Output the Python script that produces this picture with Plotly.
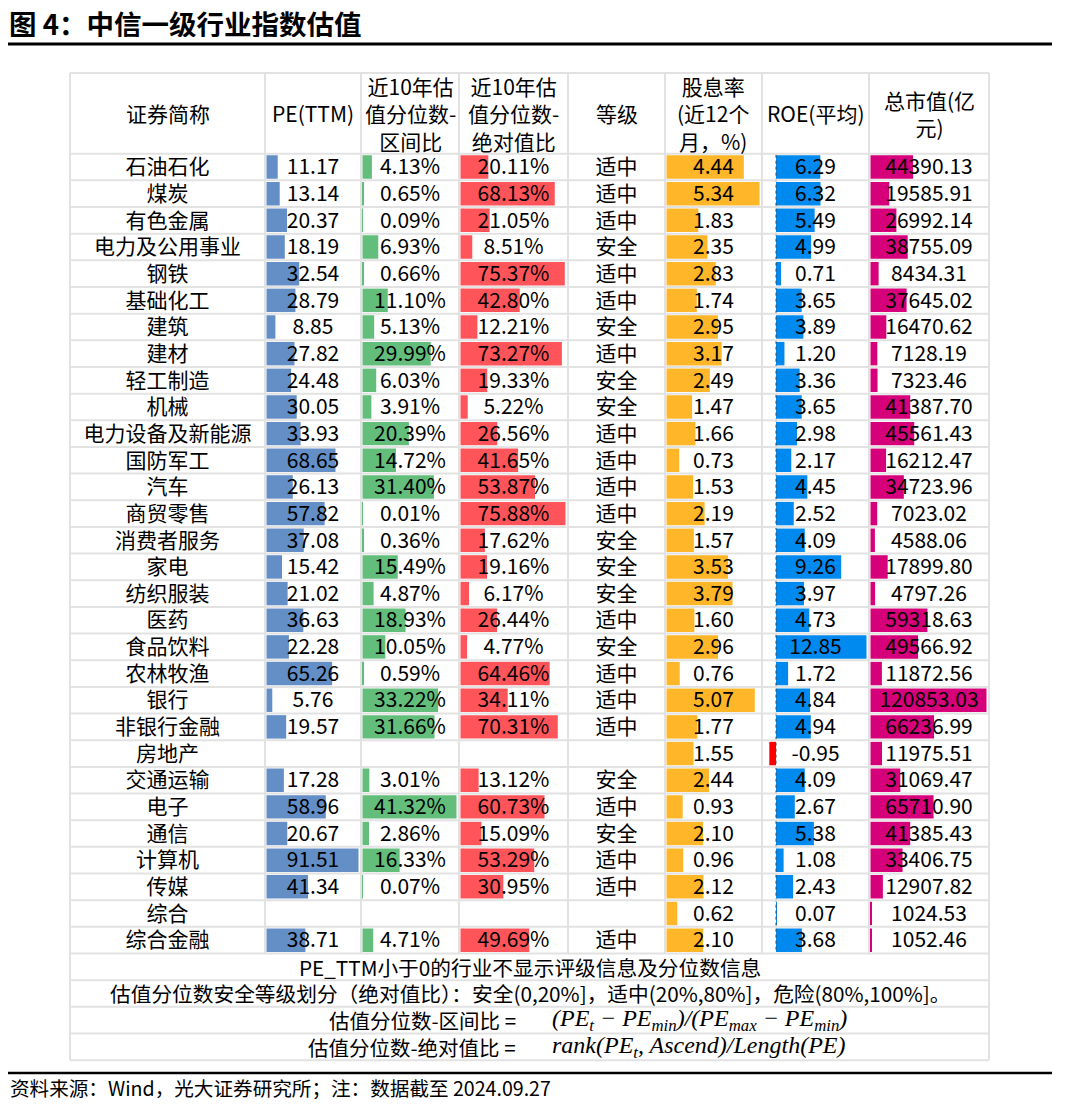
import plotly.graph_objects as go

# the page body has an 8px margin, so the figure is drawn 8px in from the top-left corner
OFF = 8
W, H = 1069 - OFF, 1113 - OFF
FONT = "Noto Sans CJK SC"

names = ["石油石化", "煤炭", "有色金属", "电力及公用事业", "钢铁", "基础化工", "建筑", "建材",
         "轻工制造", "机械", "电力设备及新能源", "国防军工", "汽车", "商贸零售", "消费者服务",
         "家电", "纺织服装", "医药", "食品饮料", "农林牧渔", "银行", "非银行金融", "房地产",
         "交通运输", "电子", "通信", "计算机", "传媒", "综合", "综合金融"]
pe = [11.17, 13.14, 20.37, 18.19, 32.54, 28.79, 8.85, 27.82, 24.48, 30.05, 33.93, 68.65, 26.13,
      57.82, 37.08, 15.42, 21.02, 36.63, 22.28, 65.26, 5.76, 19.57, None, 17.28, 58.96, 20.67,
      91.51, 41.34, None, 38.71]
pct_range = [4.13, 0.65, 0.09, 6.93, 0.66, 11.10, 5.13, 29.99, 6.03, 3.91, 20.39, 14.72, 31.40,
             0.01, 0.36, 15.49, 4.87, 18.93, 10.05, 0.59, 33.22, 31.66, None, 3.01, 41.32, 2.86,
             16.33, 0.07, None, 4.71]
pct_abs = [20.11, 68.13, 21.05, 8.51, 75.37, 42.80, 12.21, 73.27, 19.33, 5.22, 26.56, 41.65, 53.87,
           75.88, 17.62, 19.16, 6.17, 26.44, 4.77, 64.46, 34.11, 70.31, None, 13.12, 60.73, 15.09,
           53.29, 30.95, None, 49.69]
grade = ["适中", "适中", "适中", "安全", "适中", "适中", "安全", "适中", "安全", "安全", "适中", "适中",
         "适中", "适中", "安全", "安全", "安全", "适中", "安全", "适中", "适中", "适中", None, "安全",
         "适中", "安全", "适中", "适中", None, "适中"]
dividend = [4.44, 5.34, 1.83, 2.35, 2.83, 1.74, 2.95, 3.17, 2.49, 1.47, 1.66, 0.73, 1.53, 2.19,
            1.57, 3.53, 3.79, 1.60, 2.96, 0.76, 5.07, 1.77, 1.55, 2.44, 0.93, 2.10, 0.96, 2.12,
            0.62, 2.10]
roe = [6.29, 6.32, 5.49, 4.99, 0.71, 3.65, 3.89, 1.20, 3.36, 3.65, 2.98, 2.17, 4.45, 2.52, 4.09,
       9.26, 3.97, 4.73, 12.85, 1.72, 4.84, 4.94, -0.95, 4.09, 2.67, 5.38, 1.08, 2.43, 0.07, 3.68]
mktcap = [44390.13, 19585.91, 26992.14, 38755.09, 8434.31, 37645.02, 16470.62, 7128.19, 7323.46,
          41387.70, 45561.43, 16212.47, 34723.96, 7023.02, 4588.06, 17899.80, 4797.26, 59318.63,
          49566.92, 11872.56, 120853.03, 66236.99, 11975.51, 31069.47, 65710.90, 41385.43,
          33406.75, 12907.82, 1024.53, 1052.46]

headers = ["证券简称", "PE(TTM)", "近10年估<br>值分位数-<br>区间比", "近10年估<br>值分位数-<br>绝对值比",
           "等级", "股息率<br>(近12个<br>月，%)", "ROE(平均)", "总市值(亿<br>元)"]
notes = ["PE_TTM小于0的行业不显示评级信息及分位数信息",
         "估值分位数安全等级划分（绝对值比）：安全(0,20%]，适中(20%,80%]，危险(80%,100%]。"]
formula_labels = ["估值分位数-区间比 =", "估值分位数-绝对值比 ="]
formulas = ["(PE<sub>t</sub> − PE<sub>min</sub>)/(PE<sub>max</sub> − PE<sub>min</sub>)",
            "rank(PE<sub>t</sub>, Ascend)/Length(PE)"]
title = "图 4：中信一级行业指数估值"
source = "资料来源：Wind，光大证券研究所；注：数据截至 2024.09.27"

# table geometry (page pixels)
col_edges = [70, 265, 361, 459, 568, 665, 762, 869, 989]
header_top = 73
body_top = 153.7
row_h = 26.66
n = len(names)
body_bot = body_top + n * row_h
table_bot = body_bot + 4 * row_h
TEXT_DROP = 2  # cell text sits slightly below the row centre
GRID = "#E2E2E2"


def fx(p):
    return max(p - OFF, 0) / W


def fy(p):
    return 1 - (p - OFF) / H


fig = go.Figure()
layout_axes = {}


def axis_name(i):
    return "x" if i == 0 else f"x{i + 1}"


def add_axis(i, rng):
    key = "xaxis" if i == 0 else f"xaxis{i + 1}"
    layout_axes[key] = dict(domain=[fx(col_edges[i]), fx(col_edges[i + 1])], range=rng,
                            anchor="y", visible=False, fixedrange=True)


def add_text(i, xpos, labels):
    keep = [k for k, t in enumerate(labels) if t]
    fig.add_trace(go.Scatter(x=[xpos] * len(keep), y=[names[k] for k in keep],
                             text=[labels[k] for k in keep], mode="text", xaxis=axis_name(i),
                             yaxis="y2", textfont=dict(family=FONT, size=21, color="#000"),
                             hoverinfo="skip", cliponaxis=False))


def fmt_list(vals, suffix=""):
    return [None if v is None else f"{v:.2f}{suffix}" for v in vals]


# text-only columns
for i, labels in [(0, names), (4, grade)]:
    add_axis(i, [0, 1])
    add_text(i, 0.5, labels)

# data-bar columns
bar_cols = [
    (1, pe, "#638EC6", ""),
    (2, pct_range, "#63BE7B", "%"),
    (3, pct_abs, "#FF555A", "%"),
    (5, dividend, "#FFB628", ""),
    (6, roe, "#008AEF", ""),
    (7, mktcap, "#D6007B", ""),
]
for i, vals, color, suffix in bar_cols:
    vv = [v for v in vals if v is not None]
    vmax = max(vv)
    w = col_edges[i + 1] - col_edges[i]
    neg_px = 14 if min(vv) < 0 else 1.5
    u = vmax / (w - neg_px - 2.5)
    rng = [-neg_px * u, vmax + 2.5 * u]
    add_axis(i, rng)
    colors = ["#FF0000" if (v is not None and v < 0) else color for v in vals]
    fig.add_trace(go.Bar(x=vals, y=names, orientation="h", width=0.88, xaxis=axis_name(i),
                         yaxis="y", marker=dict(color=colors, line=dict(width=0)),
                         hoverinfo="skip"))
    add_text(i, sum(rng) / 2, fmt_list(vals, suffix))

shapes = []
# ROE zero axis
shapes.append(dict(type="line", xref="x7", yref="paper", x0=0, x1=0, y0=fy(body_top + 1),
                   y1=fy(body_bot - 1), line=dict(color="#444", width=1, dash="dot")))
# horizontal grid lines
hlines = [header_top] + [body_top + k * row_h for k in range(n + 1)] + \
         [body_bot + k * row_h for k in range(1, 5)]
for yy in hlines:
    shapes.append(dict(type="line", xref="paper", yref="paper", x0=fx(col_edges[0]),
                       x1=fx(col_edges[-1]), y0=fy(yy), y1=fy(yy), line=dict(color=GRID, width=2)))
# vertical grid lines
for k, xx in enumerate(col_edges):
    bottom = table_bot if k in (0, len(col_edges) - 1) else body_bot
    shapes.append(dict(type="line", xref="paper", yref="paper", x0=fx(xx), x1=fx(xx),
                       y0=fy(header_top), y1=fy(bottom), line=dict(color=GRID, width=2)))
# title rule and bottom rule
shapes.append(dict(type="line", xref="paper", yref="paper", x0=fx(6), x1=fx(1052), y0=fy(44),
                   y1=fy(44), line=dict(color="#000", width=3)))
shapes.append(dict(type="line", xref="paper", yref="paper", x0=0, x1=fx(1052), y0=fy(1073),
                   y1=fy(1073), line=dict(color="#000", width=2.5)))

annotations = []
annotations.append(dict(text=f"<b>{title}</b>", x=fx(8), y=fy(23), xref="paper", yref="paper",
                        xanchor="left", yanchor="middle", showarrow=False, height=28,
                        borderpad=0, font=dict(family=FONT, size=27.5, color="#000")))
hdr_mid = (header_top + body_top) / 2
for i, h in enumerate(headers):
    annotations.append(dict(text=h, x=fx((col_edges[i] + col_edges[i + 1]) / 2), y=fy(hdr_mid),
                            xref="paper", yref="paper", xanchor="center", yanchor="middle",
                            showarrow=False, font=dict(family=FONT, size=21, color="#000")))
tbl_mid = (col_edges[0] + col_edges[-1]) / 2
for k, t in enumerate(notes):
    annotations.append(dict(text=t, x=fx(tbl_mid), y=fy(body_bot + (k + 0.5) * row_h),
                            xref="paper", yref="paper", xanchor="center", yanchor="middle",
                            showarrow=False, font=dict(family=FONT, size=20.7, color="#000")))
for k, (lab, f) in enumerate(zip(formula_labels, formulas)):
    yy = fy(body_bot + (k + 2.5) * row_h)
    annotations.append(dict(text=lab, x=fx(518), y=yy, xref="paper", yref="paper",
                            xanchor="right", yanchor="middle", showarrow=False,
                            font=dict(family=FONT, size=20.5, color="#000")))
    annotations.append(dict(text=f"<i>{f}</i>", x=fx(550), y=yy, xref="paper", yref="paper",
                            xanchor="left", yanchor="middle", showarrow=False,
                            font=dict(family="Liberation Serif", size=24, color="#000")))
annotations.append(dict(text=source, x=fx(8), y=fy(1087), xref="paper", yref="paper",
                        xanchor="left", yanchor="middle", showarrow=False,
                        font=dict(family=FONT, size=19.6, color="#000")))

cat_axis = dict(type="category", categoryarray=names, categoryorder="array",
                range=[n - 0.5, -0.5], visible=False, fixedrange=True)
fig.update_layout(
    width=W, height=H, margin=dict(l=0, r=0, t=0, b=0),
    paper_bgcolor="white", plot_bgcolor="rgba(0,0,0,0)",
    showlegend=False, barmode="overlay",
    yaxis=dict(domain=[fy(body_bot), fy(body_top)], **cat_axis),
    # same rows, nudged down a couple of pixels, for the cell text
    yaxis2=dict(domain=[fy(body_bot + TEXT_DROP), fy(body_top + TEXT_DROP)], **cat_axis),
    shapes=shapes, annotations=annotations,
    **layout_axes,
)

fig.write_html("out.html")
